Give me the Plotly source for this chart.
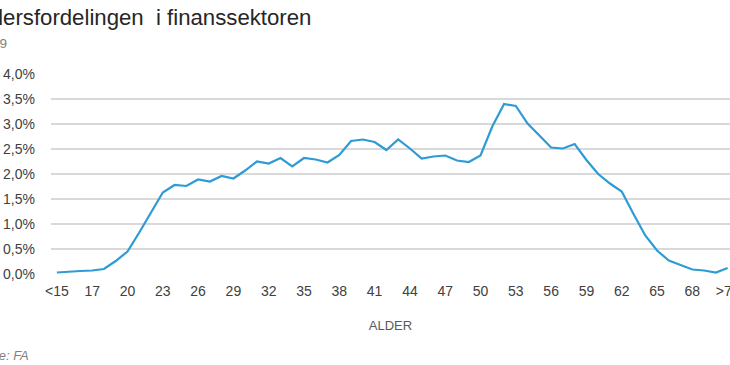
import plotly.graph_objects as go

# ---- data ----
ages = ["<15"] + [str(a) for a in range(15, 71)] + [">70"]
share = [0.03, 0.05, 0.06, 0.07, 0.10, 0.26, 0.45, 0.83, 1.24, 1.63,
         1.78, 1.76, 1.89, 1.85, 1.96, 1.91, 2.07, 2.25, 2.21, 2.32,
         2.15, 2.32, 2.29, 2.23, 2.38, 2.66, 2.69, 2.64, 2.48, 2.69,
         2.51, 2.31, 2.35, 2.37, 2.27, 2.24, 2.37, 2.95, 3.40, 3.36,
         3.01, 2.76, 2.53, 2.51, 2.60, 2.28, 2.00, 1.81, 1.65, 1.20,
         0.77, 0.47, 0.27, 0.18, 0.09, 0.07, 0.03, 0.12]
share_frac = [v / 100 for v in share]
tick_labels = ages[::3]
y_ticks = [0, 0.005, 0.01, 0.015, 0.02, 0.025, 0.03, 0.035, 0.04]

title_text = "Aldersfordelingen  i finanssektoren"
subtitle_text = "2019"
source_text = "Kilde: FA"
x_title = "ALDER"

# ---- layout geometry ----
W, H = 730, 365
L, R, T, B = 51, 0, 74, 91
pw, ph = W - L - R, H - T - B

def px_x(x):
    return (x - L) / pw

def px_y(y):
    return (H - B - y) / ph

FONT = "Liberation Sans, Arial, sans-serif"

fig = go.Figure()
fig.add_trace(go.Scatter(
    x=ages, y=share_frac, mode="lines",
    line=dict(color="#2E9BD6", width=2.2),
    hoverinfo="x+y",
))

fig.update_layout(
    width=W, height=H,
    margin=dict(l=L, r=R, t=T, b=B, pad=0, autoexpand=False),
    paper_bgcolor="white", plot_bgcolor="white",
    separators=", ",
    showlegend=False,
    font=dict(family=FONT, size=14, color="#404040"),
    xaxis=dict(
        type="category",
        range=[-0.5, 57.2],
        automargin=False,
        tickmode="array", tickvals=tick_labels, ticktext=tick_labels,
        showgrid=False, showline=False, zeroline=False, ticks="",
        tickfont=dict(size=14, color="#404040"),
        ticklabelstandoff=7,
        title=dict(text=x_title, font=dict(size=13, color="#595959"), standoff=22),
    ),
    yaxis=dict(
        range=[0, 0.04],
        automargin=False,
        tickvals=y_ticks, tickformat=".1%",
        showgrid=True, gridcolor="#D9D9D9", gridwidth=1.5,
        zeroline=False, showline=False, ticks="",
        tickfont=dict(size=14, color="#404040"),
        ticklabelstandoff=15,
    ),
    annotations=[
        dict(text=title_text, xref="paper", yref="paper",
             x=px_x(-31.5), y=px_y(17.5), xanchor="left", yanchor="middle",
             showarrow=False, font=dict(size=22.2, color="#262626", family=FONT)),
        dict(text=subtitle_text, xref="paper", yref="paper",
             x=px_x(-25), y=px_y(43.5), xanchor="left", yanchor="middle",
             showarrow=False, font=dict(size=13.5, color="#7F7F7F", family=FONT)),
        dict(text="<i>" + source_text + "</i>", xref="paper", yref="paper",
             x=px_x(-25), y=px_y(355), xanchor="left", yanchor="middle",
             showarrow=False, font=dict(size=13, color="#7F7F7F", family=FONT)),
    ],
)

fig.write_html("out.html", config={"displayModeBar": False},
               post_script="document.body.style.margin='0px';")
